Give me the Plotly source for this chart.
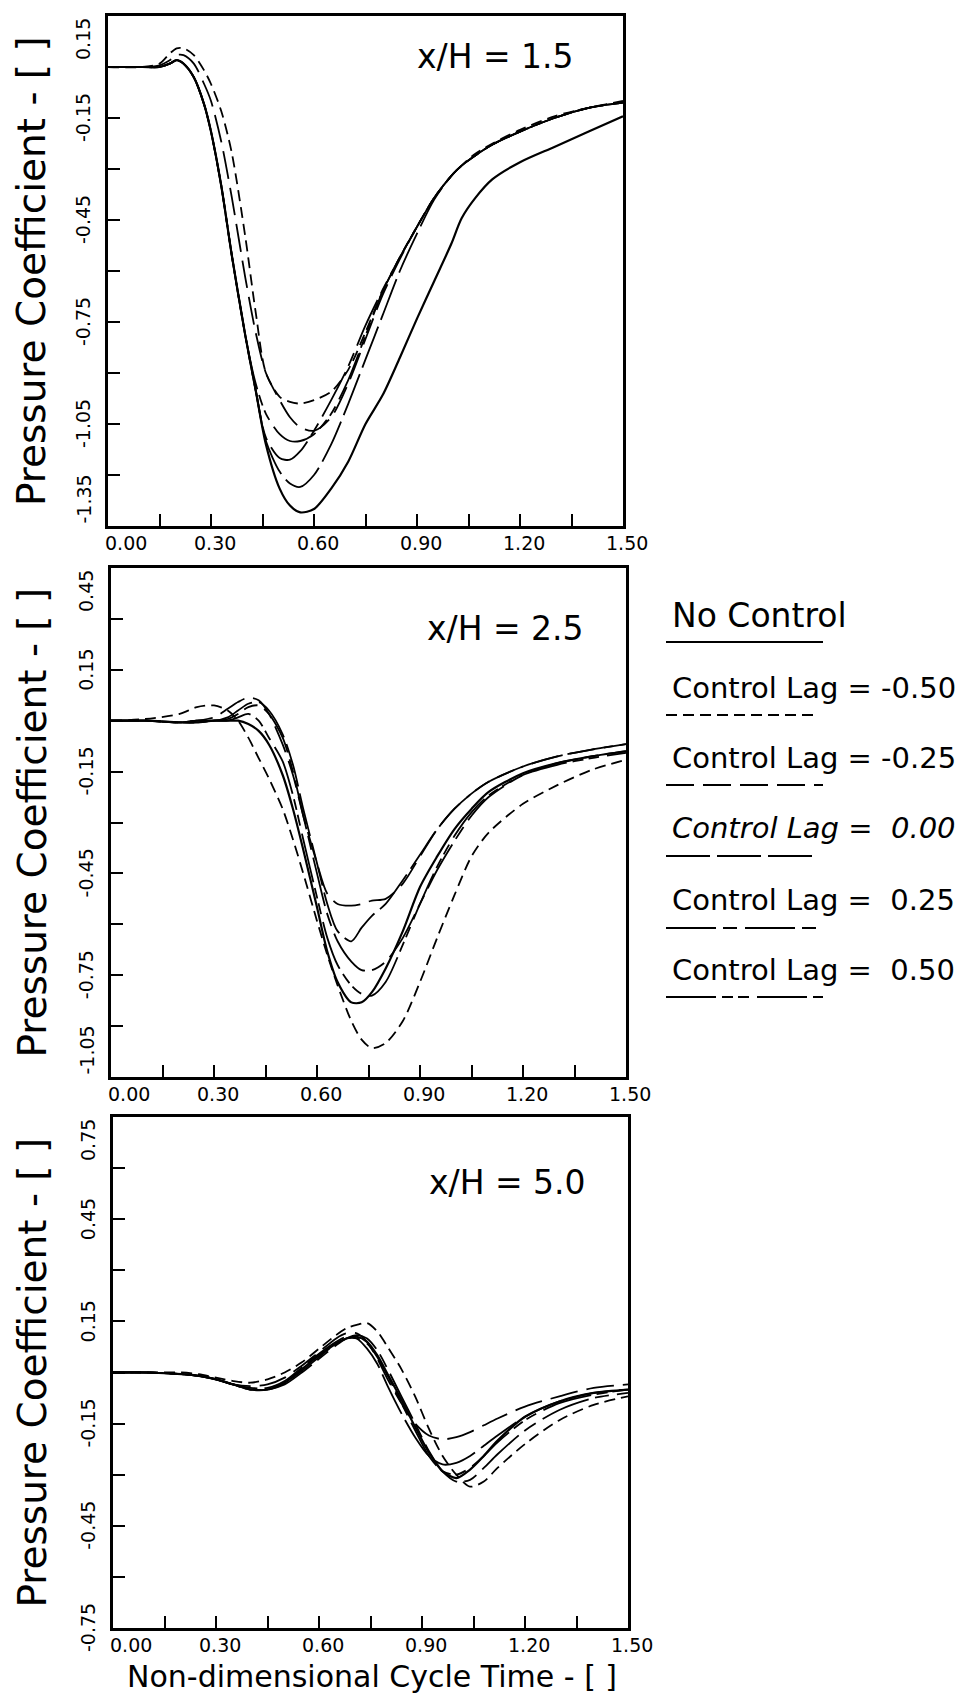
import plotly.graph_objects as go

W, H = 966, 1699
FONT = "DejaVu Sans"

SERIES = ["No Control", "Control Lag = -0.50", "Control Lag = -0.25",
          "Control Lag = 0.00", "Control Lag = 0.25", "Control Lag = 0.50"]
LEGEND_TEXT = ["No Control", "Control Lag = -0.50", "Control Lag = -0.25",
               "Control Lag = \u00a00.00", "Control Lag = \u00a00.25", "Control Lag = \u00a00.50"]
DASHES = ["solid", "11px,6px", "28px,9px", "44px,7px",
          "50px,7px,14px,8px", "50px,6px,11px,5px,11px,8px"]

X_TICK_VALS = [0.0, 0.3, 0.6, 0.9, 1.2, 1.5]
X_TICK_TEXT = ["0.00", "0.30", "0.60", "0.90", "1.20", "1.50"]

# ---------------- Panel 1 : x/H = 1.5 ----------------
P1_X = [0.00, 0.10, 0.15, 0.18, 0.20, 0.22, 0.25, 0.28, 0.30, 0.33, 0.36, 0.40, 0.43,
        0.46, 0.50, 0.53, 0.56, 0.60, 0.65, 0.70, 0.75, 0.80, 0.85, 0.90, 0.95, 1.00,
        1.03, 1.07, 1.12, 1.20, 1.30, 1.40, 1.50]
P1_NC = [0.00, 0.00, 0.00, 0.01, 0.02, 0.01, -0.03, -0.11, -0.19, -0.35, -0.55, -0.79, -0.95,
         -1.11, -1.24, -1.29, -1.31, -1.30, -1.24, -1.16, -1.05, -0.965, -0.855, -0.74, -0.63, -0.52,
         -0.445, -0.385, -0.33, -0.28, -0.235, -0.19, -0.145]
P1_M050 = [0.00, 0.00, 0.01, 0.04, 0.055, 0.055, 0.035, -0.01, -0.05, -0.13, -0.25, -0.50, -0.72,
           -0.90, -0.97, -0.985, -0.99, -0.98, -0.955, -0.89, -0.78, -0.66, -0.56, -0.47, -0.385, -0.32,
           -0.29, -0.255, -0.225, -0.185, -0.145, -0.12, -0.10]
P1_M025 = [0.00, 0.00, 0.005, 0.02, 0.035, 0.035, 0.01, -0.05, -0.10, -0.22, -0.38, -0.62, -0.78,
           -0.90, -0.98, -1.03, -1.06, -1.07, -1.03, -0.93, -0.80, -0.67, -0.565, -0.47, -0.385, -0.32,
           -0.29, -0.26, -0.228, -0.19, -0.15, -0.12, -0.105]
P1_L000 = [0.00, 0.00, 0.00, 0.01, 0.02, 0.01, -0.03, -0.11, -0.19, -0.35, -0.55, -0.79, -0.95,
           -1.10, -1.19, -1.225, -1.235, -1.20, -1.11, -0.99, -0.86, -0.73, -0.60, -0.49, -0.39, -0.32,
           -0.29, -0.26, -0.228, -0.19, -0.15, -0.12, -0.105]
P1_L025 = [0.00, 0.00, 0.00, 0.01, 0.02, 0.01, -0.03, -0.11, -0.19, -0.35, -0.55, -0.79, -0.95,
           -1.09, -1.15, -1.155, -1.13, -1.07, -0.98, -0.88, -0.76, -0.655, -0.56, -0.47, -0.385, -0.32,
           -0.29, -0.26, -0.228, -0.19, -0.15, -0.12, -0.105]
P1_L050 = [0.00, 0.00, 0.00, 0.01, 0.02, 0.01, -0.03, -0.11, -0.19, -0.35, -0.55, -0.79, -0.93,
           -1.02, -1.08, -1.10, -1.10, -1.08, -1.02, -0.92, -0.79, -0.66, -0.56, -0.47, -0.385, -0.32,
           -0.29, -0.26, -0.228, -0.19, -0.15, -0.12, -0.105]

# ---------------- Panel 2 : x/H = 2.5 ----------------
P2_X = [0.00, 0.10, 0.20, 0.25, 0.30, 0.34, 0.37, 0.40, 0.43, 0.46, 0.50, 0.53, 0.56, 0.60,
        0.63, 0.66, 0.70, 0.73, 0.76, 0.80, 0.85, 0.90, 0.95, 1.00, 1.05, 1.10, 1.20, 1.30,
        1.40, 1.50]
P2_NC = [0.00, 0.00, -0.005, -0.005, 0.00, 0.00, 0.00, -0.01, -0.03, -0.07, -0.16, -0.26, -0.38, -0.55,
         -0.68, -0.77, -0.83, -0.83, -0.80, -0.73, -0.62, -0.49, -0.40, -0.32, -0.26, -0.21, -0.155, -0.125,
         -0.105, -0.09]
P2_M050 = [0.00, 0.005, 0.02, 0.04, 0.045, 0.03, 0.00, -0.05, -0.11, -0.17, -0.26, -0.35, -0.45, -0.59,
           -0.69, -0.78, -0.885, -0.94, -0.965, -0.95, -0.885, -0.77, -0.64, -0.515, -0.40, -0.33, -0.245, -0.19,
           -0.145, -0.115]
P2_M025 = [0.00, 0.00, -0.005, 0.00, 0.01, 0.035, 0.055, 0.068, 0.06, 0.02, -0.07, -0.16, -0.28, -0.42,
           -0.51, -0.54, -0.545, -0.54, -0.53, -0.525, -0.48, -0.40, -0.32, -0.26, -0.215, -0.18, -0.135, -0.105,
           -0.085, -0.069]
P2_L000 = [0.00, 0.00, -0.005, 0.00, 0.00, 0.01, 0.03, 0.05, 0.055, 0.03, -0.04, -0.13, -0.26, -0.42,
           -0.54, -0.62, -0.65, -0.61, -0.575, -0.54, -0.47, -0.395, -0.32, -0.26, -0.215, -0.18, -0.135, -0.105,
           -0.085, -0.069]
P2_L025 = [0.00, 0.00, -0.005, 0.00, 0.00, 0.005, 0.02, 0.04, 0.045, 0.02, -0.05, -0.15, -0.28, -0.45,
           -0.57, -0.65, -0.71, -0.735, -0.735, -0.71, -0.64, -0.54, -0.44, -0.355, -0.28, -0.225, -0.16, -0.125,
           -0.105, -0.09]
P2_L050 = [0.00, 0.00, -0.005, -0.005, 0.00, 0.00, 0.01, 0.02, 0.00, -0.05, -0.12, -0.22, -0.35, -0.52,
           -0.64, -0.72, -0.78, -0.805, -0.81, -0.77, -0.66, -0.54, -0.43, -0.34, -0.27, -0.22, -0.16, -0.13,
           -0.11, -0.095]

# ---------------- Panel 3 : x/H = 5.0 ----------------
P3_X = [0.00, 0.10, 0.20, 0.25, 0.30, 0.35, 0.40, 0.45, 0.50, 0.55, 0.60, 0.65, 0.68, 0.71,
        0.74, 0.77, 0.80, 0.84, 0.88, 0.92, 0.96, 1.00, 1.04, 1.08, 1.12, 1.20, 1.30, 1.40, 1.50]
P3_NC = [0.00, 0.00, -0.005, -0.01, -0.02, -0.035, -0.05, -0.05, -0.03, 0.01, 0.05, 0.085, 0.10, 0.105,
         0.09, 0.05, -0.005, -0.08, -0.16, -0.235, -0.29, -0.31, -0.285, -0.245, -0.20, -0.13, -0.085, -0.06,
         -0.05]
P3_M050 = [0.00, 0.00, 0.00, -0.005, -0.015, -0.025, -0.03, -0.02, 0.00, 0.03, 0.07, 0.11, 0.13, 0.14,
           0.145, 0.12, 0.075, 0.01, -0.07, -0.165, -0.245, -0.30, -0.335, -0.32, -0.28, -0.21, -0.14, -0.095,
           -0.07]
P3_M025 = [0.00, 0.00, -0.005, -0.01, -0.02, -0.035, -0.04, -0.035, -0.015, 0.02, 0.06, 0.10, 0.115, 0.115,
           0.09, 0.04, -0.02, -0.09, -0.15, -0.185, -0.196, -0.19, -0.175, -0.155, -0.135, -0.10, -0.07, -0.045,
           -0.035]
P3_L000 = [0.00, 0.00, -0.005, -0.01, -0.02, -0.035, -0.045, -0.045, -0.025, 0.015, 0.055, 0.09, 0.105, 0.10,
           0.07, 0.025, -0.04, -0.12, -0.19, -0.245, -0.27, -0.265, -0.245, -0.215, -0.185, -0.13, -0.085, -0.06,
           -0.05]
P3_L025 = [0.00, 0.00, -0.005, -0.01, -0.02, -0.035, -0.05, -0.05, -0.035, 0.00, 0.04, 0.08, 0.10, 0.11,
           0.10, 0.065, 0.01, -0.07, -0.15, -0.23, -0.29, -0.32, -0.315, -0.28, -0.24, -0.17, -0.11, -0.075,
           -0.06]
P3_L050 = [0.00, 0.00, -0.005, -0.01, -0.02, -0.035, -0.05, -0.05, -0.03, 0.005, 0.045, 0.085, 0.10, 0.10,
           0.085, 0.045, -0.01, -0.09, -0.17, -0.245, -0.29, -0.30, -0.28, -0.245, -0.205, -0.14, -0.09, -0.065,
           -0.05]

P1_Y_RANGE = [-1.35, 0.15]
P2_Y_RANGE = [-1.05, 0.45]
P3_Y_RANGE = [-0.75, 0.75]
P1_Y_TICK_VALS = [0.15, -0.15, -0.45, -0.75, -1.05, -1.35]
P2_Y_TICK_VALS = [0.45, 0.15, -0.15, -0.45, -0.75, -1.05]
P3_Y_TICK_VALS = [0.75, 0.45, 0.15, -0.15, -0.45, -0.75]
P1_Y_TICK_TEXT = ["0.15", "-0.15", "-0.45", "-0.75", "-1.05", "-1.35"]
P2_Y_TICK_TEXT = ["0.45", "0.15", "-0.15", "-0.45", "-0.75", "-1.05"]
P3_Y_TICK_TEXT = ["0.75", "0.45", "0.15", "-0.15", "-0.45", "-0.75"]
PANEL_LABELS = ["x/H = 1.5", "x/H = 2.5", "x/H = 5.0"]
Y_TITLE = "Pressure Coefficient - [ ]"
X_TITLE = "Non-dimensional Cycle Time - [ ]"

panels = [
    dict(x=P1_X, ys=[P1_NC, P1_M050, P1_M025, P1_L000, P1_L025, P1_L050], yr=P1_Y_RANGE,
         tv=P1_Y_TICK_VALS, tt=P1_Y_TICK_TEXT, label=PANEL_LABELS[0],
         px=(108, 623), py=(16, 526), last_anchor="bottom", lab_dx=47, lab_dy=41),
    dict(x=P2_X, ys=[P2_NC, P2_M050, P2_M025, P2_L000, P2_L025, P2_L050], yr=P2_Y_RANGE,
         tv=P2_Y_TICK_VALS, tt=P2_Y_TICK_TEXT, label=PANEL_LABELS[1],
         px=(111, 626), py=(568, 1077), last_anchor="bottom", lab_dx=40, lab_dy=60),
    dict(x=P3_X, ys=[P3_NC, P3_M050, P3_M025, P3_L000, P3_L025, P3_L050], yr=P3_Y_RANGE,
         tv=P3_Y_TICK_VALS, tt=P3_Y_TICK_TEXT, label=PANEL_LABELS[2],
         px=(113, 628), py=(1117, 1628), last_anchor="middle", lab_dx=40, lab_dy=65),
]

fig = go.Figure()
annotations = []
shapes = []


def fx(px):
    return px / W


def fy(py):
    return 1 - py / H


for i, p in enumerate(panels, start=1):
    xa = "x" if i == 1 else f"x{i}"
    ya = "y" if i == 1 else f"y{i}"
    for k, (name, ys) in enumerate(zip(SERIES, p["ys"])):
        fig.add_trace(go.Scatter(
            x=p["x"], y=ys, mode="lines", name=name, xaxis=xa, yaxis=ya,
            line=dict(color="black", width=2.2 if k == 0 else 1.8, dash=DASHES[k],
                      shape="spline", smoothing=0.8),
            showlegend=False, hoverinfo="skip"))
    axis_common = dict(showline=True, mirror=True, linecolor="black", linewidth=2.5,
                       ticks="inside", ticklen=12, tickwidth=1.8, tickcolor="black",
                       dtick=0.15, tick0=0, showgrid=False, zeroline=False,
                       showticklabels=False)
    fig.update_layout(**{
        ("xaxis" if i == 1 else f"xaxis{i}"): dict(
            domain=[fx(p["px"][0]), fx(p["px"][1])], range=[0, 1.5], anchor=ya, **axis_common),
        ("yaxis" if i == 1 else f"yaxis{i}"): dict(
            domain=[fy(p["py"][1]), fy(p["py"][0])], range=p["yr"], anchor=xa, **axis_common),
    })
    # x tick labels
    for j, (v, t) in enumerate(zip(X_TICK_VALS, X_TICK_TEXT)):
        annotations.append(dict(
            x=v, xref=xa, y=fy(p["py"][1]), yref="paper", text=t, showarrow=False,
            xanchor="center", yanchor="top", xshift=18 if j == 0 else 4, yshift=-4,
            font=dict(family=FONT, size=19, color="black")))
    # y tick labels (rotated)
    n = len(p["tv"])
    for j, (v, t) in enumerate(zip(p["tv"], p["tt"])):
        anchor = "top" if j == 0 else (p["last_anchor"] if j == n - 1 else "middle")
        annotations.append(dict(
            x=fx(p["px"][0]), xref="paper", y=v, yref=ya, text=t, showarrow=False,
            textangle=-90, xanchor="right", yanchor=anchor, xshift=-12,
            font=dict(family=FONT, size=19, color="black")))
    # y title
    annotations.append(dict(
        x=fx(32), xref="paper", y=fy((p["py"][0] + p["py"][1]) / 2), yref="paper",
        text=Y_TITLE, showarrow=False, textangle=-90, xanchor="center", yanchor="middle",
        font=dict(family=FONT, size=39, color="black")))
    # panel label
    annotations.append(dict(
        x=fx(p["px"][1] - p["lab_dx"]), xref="paper", y=fy(p["py"][0] + p["lab_dy"]), yref="paper",
        text=p["label"], showarrow=False, xanchor="right", yanchor="middle",
        font=dict(family=FONT, size=33, color="black")))

# x title
annotations.append(dict(
    x=fx(372), xref="paper", y=fy(1676), yref="paper", text=X_TITLE, showarrow=False,
    xanchor="center", yanchor="middle", font=dict(family=FONT, size=30, color="black")))

# legend (text above a line sample)
LEG_TEXT_Y = [615, 688, 758, 828, 900, 970]
LEG_LINE_Y = [642, 715, 785, 856, 928, 997]
LEG_LINE_X1 = [823, 815, 823, 815, 823, 823]
for k, txt in enumerate(LEGEND_TEXT):
    annotations.append(dict(
        x=fx(670), xref="paper", y=fy(LEG_TEXT_Y[k]), yref="paper", text=txt,
        showarrow=False, xanchor="left", yanchor="middle",
        font=dict(family=FONT, size=33 if k == 0 else 29, color="black",
                  style="italic" if k == 3 else "normal")))
    shapes.append(dict(
        type="line", xref="paper", yref="paper", x0=fx(666), x1=fx(LEG_LINE_X1[k]),
        y0=fy(LEG_LINE_Y[k]), y1=fy(LEG_LINE_Y[k]),
        line=dict(color="black", width=2.2, dash=DASHES[k])))

fig.update_layout(
    width=W, height=H, margin=dict(l=0, r=0, t=0, b=0),
    paper_bgcolor="white", plot_bgcolor="white",
    annotations=annotations, shapes=shapes, showlegend=False,
    font=dict(family=FONT, color="black"))

fig.write_html("out.html")
